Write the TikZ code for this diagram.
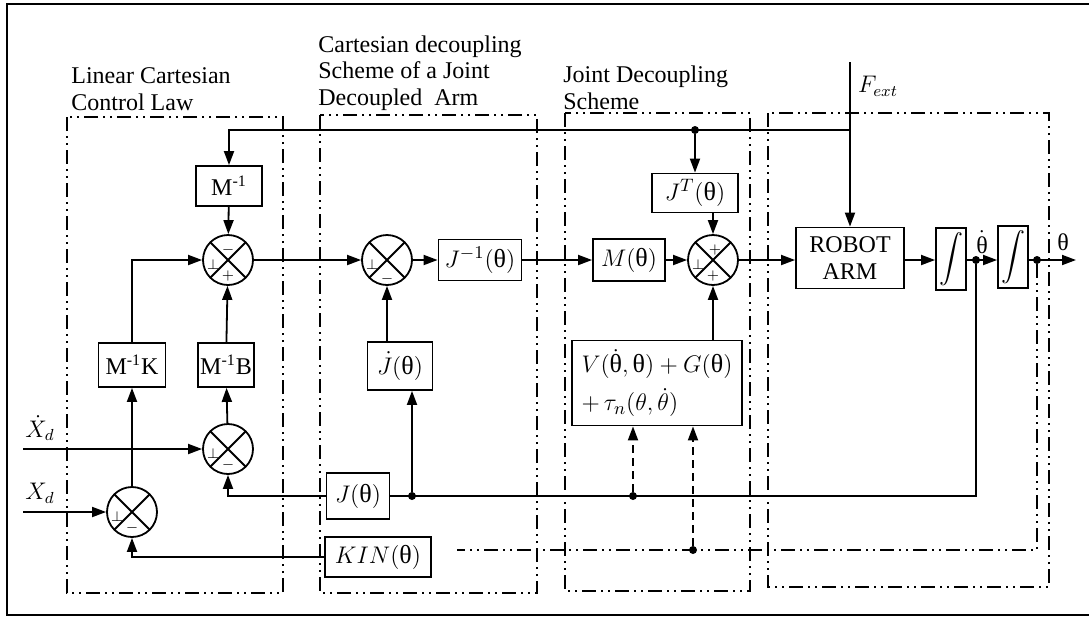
\documentclass[tikz,border=0pt]{standalone}
\usepackage{amsmath}
\usepackage{fontspec}
\setmainfont{Liberation Serif}
\usetikzlibrary{arrows.meta,calc,positioning}
\newcommand{\uth}{\text{θ}}
\tikzset{
  wire/.style={black, line width=0.9pt},
  flow/.style={wire, -{Triangle[length=7pt,width=5pt]}},
  dflow/.style={flow, dash pattern=on 4pt off 2.5pt},
  region/.style={black, line width=0.8pt,
                 dash pattern=on 7pt off 2.5pt on 1pt off 2.5pt on 1pt off 2.5pt},
  block/.style={draw=black, line width=0.9pt, inner sep=1pt, align=center,
                font=\fontsize{13}{15}\selectfont},
  sumnode/.style={draw=black, line width=0.9pt, circle, minimum size=25pt, inner sep=0pt,
    path picture={\draw[line width=0.9pt]
      (path picture bounding box.north west) -- (path picture bounding box.south east)
      (path picture bounding box.north east) -- (path picture bounding box.south west);}},
  sign/.style={font=\scriptsize, inner sep=0pt},
  lab/.style={align=left, inner sep=0pt},
  junction/.style={circle, fill=black, inner sep=0pt, minimum size=4pt},
}

\begin{document}
\begin{tikzpicture}[x=0.5pt,y=-0.5pt,
  every node/.append style={font=\fontsize{12}{13.25}\selectfont}]
  \path[use as bounding box] (0,0) rectangle (1089,618);

  % outer frame (open on the right)
  \draw[line width=1.2pt] (1089,4) -- (7,4) -- (7,615) -- (1089,615);

  % the four dash-dot regions and their titles
  \draw[region] (67,117) rectangle (283,593);
  \draw[region] (320,115) rectangle (537,593);
  \draw[region] (565,113) rectangle (750,591);
  \draw[region] (768,113) rectangle (1049,587);
  \node[lab, anchor=south west] (tLaw) at (71,111) {Linear Cartesian\\Control Law};
  \node[lab, anchor=south west] (tCart) at (318,111)
    {Cartesian decoupling\\Scheme of a Joint\\Decoupled\ \ Arm};
  \node[lab, anchor=south west] (tJoint) at (563,110) {Joint Decoupling\\Scheme};

  % linear Cartesian control law
  \node[block, font=\fontsize{12}{13}\selectfont, minimum width=33pt, minimum height=20pt]
    (Minv) at (229,186) {M\textsuperscript{-1}};
  \node[sumnode] (s1) at (228,260) {};
  \node[block, font=\fontsize{12}{13}\selectfont, minimum width=33.5pt, minimum height=22pt]
    (MinvK) at (132,365) {M\textsuperscript{-1}K};
  \node[block, font=\fontsize{12}{13}\selectfont, minimum width=28pt, minimum height=22pt]
    (MinvB) at (226,365) {M\textsuperscript{-1}B};
  \node[sumnode] (s2) at (228,449) {};
  \node[sumnode] (s3) at (132,512) {};
  \coordinate (xdin) at (23,449);
  \coordinate (xin) at (23,512);
  \node (lXd) at (40,428) {$\dot{X}_{d}$};
  \node (lX) at (40,493) {$X_{d}$};

  % Cartesian decoupling of the joint decoupled arm
  \node[sumnode] (s4) at (387,260) {};
  \node[block, minimum width=41.5pt, minimum height=20.5pt] (Jinv) at (480,260) {$J^{-1}(\uth)$};
  \node[block, minimum width=32.5pt, minimum height=24pt] (Jdot) at (400,366) {$\dot{J}(\uth)$};
  \node[block, minimum width=31.5pt, minimum height=23pt] (Jth) at (358,496) {$J(\uth)$};
  \node[block, minimum width=53pt, minimum height=20pt] (KIN) at (378,557) {$KIN(\uth)$};

  % joint decoupling
  \node[block, minimum width=36pt, minimum height=21pt] (Mth) at (629,260) {$M(\uth)$};
  \node[sumnode] (s5) at (713,260) {};
  \node[block, minimum width=43pt, minimum height=19.5pt] (JT) at (695,193) {$J^{T}(\uth)$};
  \node[block, minimum width=85pt, minimum height=42.5pt, align=left, inner sep=1.5pt]
    (V) at (657,383)
    {$V(\dot{\uth},\uth)+G(\uth)$\\[4pt]$+\,\tau_{n}(\theta,\dot{\theta})$};

  % robot and integrators
  \node[block, font=\fontsize{12}{13.25}\selectfont, minimum width=54pt, minimum height=30.5pt]
    (robot) at (850,258) {ROBOT\\ARM};
  \node[block, minimum width=15pt, minimum height=31pt] (int1) at (951,259) {$\displaystyle\int$};
  \node[block, minimum width=15pt, minimum height=31pt] (int2) at (1013,257) {$\displaystyle\int$};
  \coordinate (out) at (1076,260);
  \coordinate (fxtop) at (850,62);
  \node (lF) at (878,86) {$F_{ext}$};
  \node (lthd) at (982,242) {$\dot{\uth}$};
  \node (lth) at (1063,242) {$\uth$};

  % junctions
  \coordinate (fx) at (850,130);
  \node[junction] (dJT) at (695,130) {};
  \node[junction] (dJ) at (412,496) {};
  \node[junction] (dV1) at (633,496) {};
  \node[junction] (dthd) at (976,260) {};
  \node[junction] (dth) at (1037,260) {};
  \node[junction] (dV2) at (693,550) {};
  \coordinate (kinend) at (457,550);

  % signs on the summing points
  \node[sign] (s1t) at ([yshift=5pt]s1.center) {$-$};
  \node[sign] (s1l) at ([xshift=-7.5pt,yshift=-2.5pt]s1.center) {$\perp$};
  \node[sign] (s1b) at ([yshift=-8pt]s1.center) {$+$};
  \node[sign] (s2l) at ([xshift=-7.5pt,yshift=-2.5pt]s2.center) {$\perp$};
  \node[sign] (s2b) at ([yshift=-8pt]s2.center) {$-$};
  \node[sign] (s3l) at ([xshift=-7.5pt,yshift=-2.5pt]s3.center) {$\perp$};
  \node[sign] (s3b) at ([yshift=-8pt]s3.center) {$-$};
  \node[sign] (s4l) at ([xshift=-7.5pt,yshift=-2.5pt]s4.center) {$\perp$};
  \node[sign] (s4b) at ([yshift=-9.5pt]s4.center) {$-$};
  \node[sign] (s5t) at ([xshift=1pt,yshift=5pt]s5.center) {$+$};
  \node[sign] (s5l) at ([xshift=-7.5pt,yshift=-2.5pt]s5.center) {$\perp$};
  \node[sign] (s5b) at ([yshift=-8pt]s5.center) {$+$};

  % connections
  \draw[flow] (fx) -| (Minv.north);
  \draw[flow] (dJT) -- (JT.north);
  \draw[flow] (fxtop) -- (robot.north);
  \draw[flow] (Minv) -- (s1);
  \draw[flow] (MinvK.north) |- (s1.west);
  \draw[flow] (MinvB) -- (s1);
  \draw[flow] (s2) -- (MinvB);
  \draw[flow] (s3) -- (MinvK);
  \draw[flow] (xdin) -- (s2.west);
  \draw[flow] (xin) -- (s3.west);
  \draw[flow] (Jth.west) -| (s2.south);
  \draw[flow] (KIN.west) -| (s3.south);
  \draw[flow] (s1) -- (s4);
  \draw[flow] (s4) -- (Jinv);
  \draw[flow] (Jinv) -- (Mth);
  \draw[flow] (Mth) -- (s5);
  \draw[flow] (s5) -- (robot.west |- s5);
  \draw[flow] (robot.east |- s5) -- (int1.west |- s5);
  \draw[flow] (int1.east |- s5) -- (int2.west |- s5);
  \draw[flow] (int2.east |- s5) -- (out);
  \draw[flow] (Jdot.north -| s4) -- (s4.south);
  \draw[flow] (dJ) -- (dJ |- Jdot.south);
  \draw[flow] (JT.south -| s5) -- (s5.north);
  \draw[flow] (V.north -| s5) -- (s5.south);
  \draw[wire] (Jth.east) -| (dthd);
  \draw[dflow] (dV1) -- (dV1 |- V.south);
  \draw[dflow] (dV2) -- (dV2 |- V.south);
  \draw[region] (dth) -- (dth |- dV2) -- (kinend);
\end{tikzpicture}
\end{document}
